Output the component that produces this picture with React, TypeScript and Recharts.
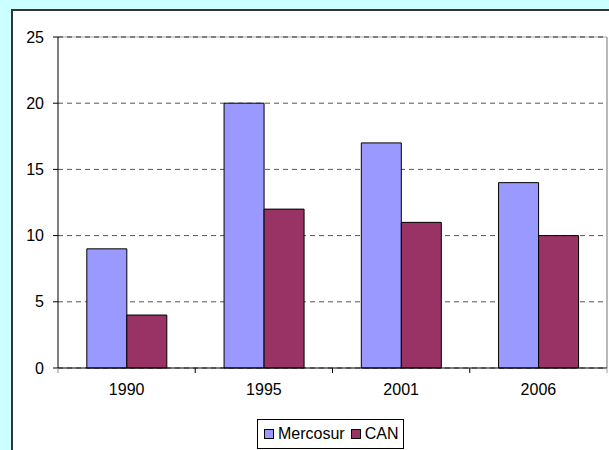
import { BarChart, Bar, XAxis, YAxis, CartesianGrid, ReferenceLine } from "recharts";

const years = ["1990", "1995", "2001", "2006"];
const mercosur = [9, 20, 17, 14];
const can = [4, 12, 11, 10];
const yTicks = [0, 5, 10, 15, 20, 25];

const series = [
  { key: "mercosur", name: "Mercosur", color: "#9999ff" },
  { key: "can", name: "CAN", color: "#993366" },
];

const data = years.map((year, i) => ({ year, mercosur: mercosur[i], can: can[i] }));

const FONT = '"Liberation Sans", Arial, sans-serif';
const tickStyle = { fontSize: 16, fontFamily: FONT, fill: "#000" };

const CHART_W = 595;
const MARGIN = { top: 25, right: 2, left: 0, bottom: 54 };
const Y_W = 44;
const BAND = (CHART_W - MARGIN.left - MARGIN.right - Y_W) / years.length;
const TICK_OFFSET = 16; // tickSize + tickMargin of the category axis

// category label plus tick marks on the band edges, as in the original
function YearTick(props: any) {
  const { x, y, payload, index } = props;
  const axisY = y - TICK_OFFSET;
  const left = x - BAND / 2;
  return (
    <g>
      <line x1={left} y1={axisY} x2={left} y2={axisY + 5} stroke={index === 0 ? "#888" : "#000"} />
      {index === years.length - 1 && (
        <line x1={x + BAND / 2} y1={axisY} x2={x + BAND / 2} y2={axisY + 5} stroke="#a0a0a0" />
      )}
      <text x={x} y={y} dy="0.71em" textAnchor="middle" style={tickStyle}>
        {payload.value}
      </text>
    </g>
  );
}

export default function App() {
  return (
    <div
      style={{
        position: "fixed",
        left: 0,
        top: 0,
        width: 609,
        height: 450,
        background: "#ccffff",
        overflow: "hidden",
      }}
    >
      <div
        style={{
          position: "absolute",
          left: 11,
          top: 9,
          width: 620,
          height: 460,
          background: "#fff",
          border: "2px solid #333",
        }}
      />
      <div style={{ position: "absolute", left: 14, top: 12 }}>
        <BarChart
          width={CHART_W}
          height={440}
          data={data}
          margin={MARGIN}
          barCategoryGap="21%"
          barGap={0}
        >
          <CartesianGrid vertical={false} stroke="#555" strokeDasharray="5 4" />
          <XAxis
            dataKey="year"
            height={30}
            axisLine={{ stroke: "#000" }}
            tickLine={false}
            tickSize={5}
            tickMargin={11}
            tick={<YearTick />}
            interval={0}
          />
          <YAxis
            width={Y_W}
            domain={[0, 25]}
            ticks={yTicks}
            tick={tickStyle}
            tickSize={5}
            tickMargin={9}
            axisLine={{ stroke: "#000" }}
            tickLine={{ stroke: "#000" }}
          />
          <ReferenceLine y={25} stroke="#a8a8a8" strokeWidth={1} />
          <ReferenceLine y={25} stroke="#555" strokeDasharray="5 4" />
          <ReferenceLine x={years[years.length - 1]} position="end" stroke="#a0a0a0" strokeWidth={1.5} />
          {series.map((s) => (
            <Bar
              key={s.key}
              dataKey={s.key}
              name={s.name}
              fill={s.color}
              stroke="#000"
              strokeWidth={1}
              isAnimationActive={false}
            />
          ))}
        </BarChart>
      </div>
      <div
        style={{
          position: "absolute",
          left: 257,
          top: 419,
          height: 28,
          padding: "0 5px 0 6px",
          border: "1px solid #000",
          background: "#fff",
          display: "flex",
          alignItems: "center",
          gap: 6,
          fontFamily: FONT,
          fontSize: 16,
          color: "#000",
          boxSizing: "content-box",
        }}
      >
        {series.map((s) => (
          <div key={s.key} style={{ display: "flex", alignItems: "center", gap: 4 }}>
            <span
              style={{
                display: "inline-block",
                width: 8,
                height: 8,
                background: s.color,
                border: "1px solid #000",
              }}
            />
            <span>{s.name}</span>
          </div>
        ))}
      </div>
    </div>
  );
}
